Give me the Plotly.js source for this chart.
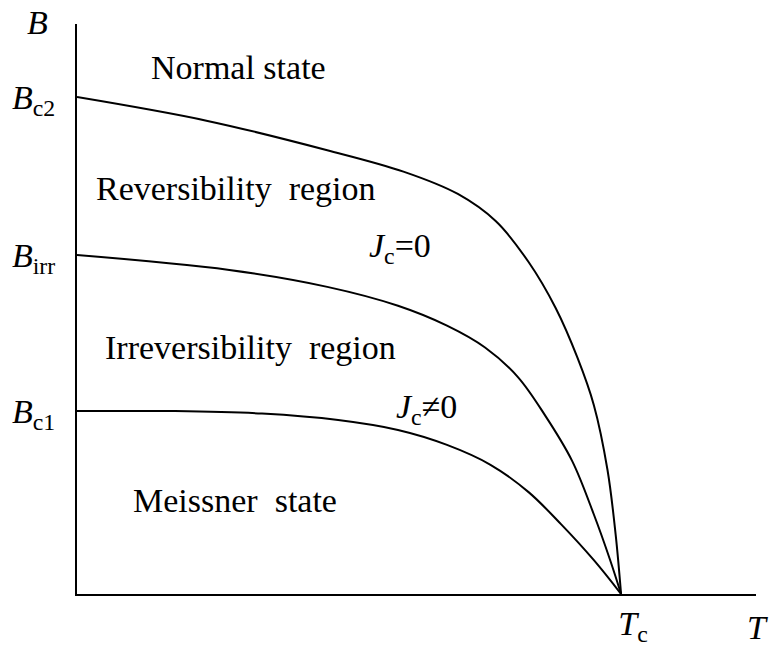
<!DOCTYPE html>
<html>
<head>
<meta charset="utf-8">
<script src="https://cdn.plot.ly/plotly-3.0.1.min.js"></script>
<style>
  html, body { margin: 0; padding: 0; background: #fff; }
  #chart { width: 770px; height: 646px; }
</style>
</head>
<body>
<div id="chart"></div>
<script>
// Temperature (normalised, Tc = 1) and field (normalised, Bc2(0) = 1)
const tBc2 = [0, 0.24, 0.46, 0.60, 0.70, 0.77, 0.83, 0.88, 0.92, 0.95, 0.975, 0.99, 1];
const bBc2 = [1.000, 0.952, 0.893, 0.850, 0.805, 0.750, 0.668, 0.575, 0.475, 0.380, 0.250, 0.120, 0];

const tBirr = [0, 0.28, 0.46, 0.59, 0.68, 0.75, 0.81, 0.86, 0.91, 0.95, 0.98, 1];
const bBirr = [0.682, 0.652, 0.618, 0.580, 0.540, 0.496, 0.437, 0.360, 0.268, 0.160, 0.068, 0];

const tBc1 = [0, 0.18, 0.34, 0.48, 0.59, 0.68, 0.76, 0.83, 0.89, 0.95, 1];
const bBc1 = [0.368, 0.368, 0.363, 0.350, 0.330, 0.300, 0.260, 0.205, 0.140, 0.068, 0];

const Tc = 1;
const yTickVals = [bBc2[0], bBirr[0], bBc1[0]];
const yTickText = ['<i>B</i><sub>c2</sub>', '<i>B</i><sub>irr</sub>', '<i>B</i><sub>c1</sub>'];
const xTickVals = [Tc];
const xTickText = ['<i>T</i><sub>c</sub>'];

const regionLabels = ['Normal state', 'Reversibility\u00a0 region', '<i>J</i><sub>c</sub>=0',
                      'Irreversibility\u00a0 region', '<i>J</i><sub>c</sub>\u22600', 'Meissner\u00a0 state'];
const regionT = [0.296, 0.292, 0.594, 0.318, 0.642, 0.290];
const regionB = [1.060, 0.815, 0.696, 0.497, 0.372, 0.189];

const FONT = 'Liberation Serif';
const lineStyle = {color: '#000', width: 2, shape: 'spline', smoothing: 1};

const traces = [
  {x: tBc2, y: bBc2, mode: 'lines', line: lineStyle, hoverinfo: 'skip'},
  {x: tBirr, y: bBirr, mode: 'lines', line: lineStyle, hoverinfo: 'skip'},
  {x: tBc1, y: bBc1, mode: 'lines', line: lineStyle, hoverinfo: 'skip'}
];

const annotations = regionLabels.map((txt, i) => ({
  x: regionT[i], y: regionB[i], xref: 'x', yref: 'y', text: txt, showarrow: false,
  font: {family: FONT, size: 34, color: '#000'}, xanchor: 'center', yanchor: 'middle'
}));
annotations.push({xref: 'paper', yref: 'paper', x: 0, y: 1, xshift: -40, yshift: 2,
  text: '<i>B</i>', showarrow: false, font: {family: FONT, size: 34, color: '#000'},
  xanchor: 'center', yanchor: 'middle'});
annotations.push({xref: 'paper', yref: 'paper', x: 1, y: 0, xshift: 1, yshift: -33,
  text: '<i>T</i>', showarrow: false, font: {family: FONT, size: 34, color: '#000'},
  xanchor: 'center', yanchor: 'middle'});

const layout = {
  width: 770, height: 646,
  margin: {l: 77, r: 14, t: 24, b: 52},
  paper_bgcolor: '#fff', plot_bgcolor: '#fff',
  showlegend: false,
  font: {family: FONT, color: '#000'},
  xaxis: {
    range: [0, 1.248], showline: true, linecolor: '#000', linewidth: 2,
    showgrid: false, zeroline: false, ticks: '',
    tickvals: xTickVals, ticktext: xTickText, ticklabelshift: 12, ticklabelstandoff: -2,
    tickfont: {family: FONT, size: 34, color: '#000'}, fixedrange: true
  },
  yaxis: {
    range: [0, 1.147], showline: true, linecolor: '#000', linewidth: 2,
    showgrid: false, zeroline: false, ticks: '',
    tickvals: yTickVals, ticktext: yTickText, ticklabelstandoff: 13,
    tickfont: {family: FONT, size: 34, color: '#000'}, fixedrange: true
  },
  annotations: annotations
};

Plotly.newPlot('chart', traces, layout, {displayModeBar: false, staticPlot: true});
</script>
</body>
</html>
